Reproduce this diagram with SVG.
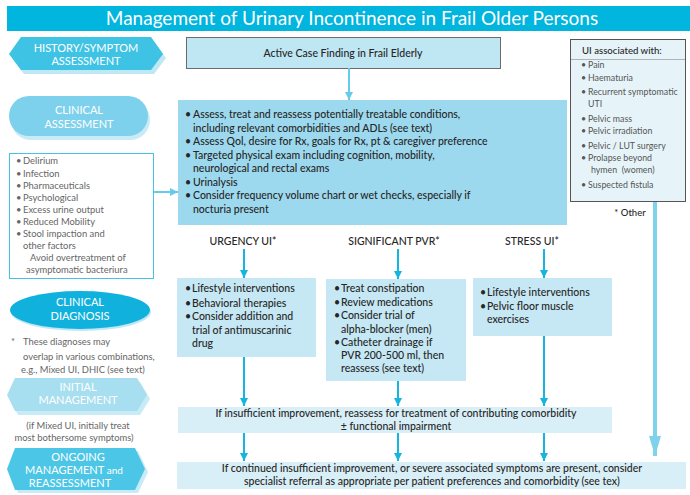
<svg xmlns="http://www.w3.org/2000/svg" width="690" height="495" viewBox="0 0 690 495">
<style>
text{font-family:Lato,"Liberation Sans",sans-serif}
.nav{fill:#fff;font-size:11px;text-anchor:middle}
.b{fill:#262626;font-size:10.5px;font-weight:500}
.c{text-anchor:middle}
.g{fill:#666;font-size:9.4px}
.r{fill:#555;font-size:8.8px}
.lbl{fill:#262626;font-size:10.5px;font-weight:500;text-anchor:middle}
.ar{stroke:#14b5df;stroke-width:2;fill:none}
.arl{stroke:#66caea;stroke-width:2;fill:none}
</style>
<defs>
<marker id="ah" markerUnits="userSpaceOnUse" markerWidth="8" markerHeight="10" refX="8" refY="4" orient="auto"><path d="M0,0 L8,4 L0,8 Z" fill="#14b5df"/></marker>
<marker id="ahl" markerUnits="userSpaceOnUse" markerWidth="8" markerHeight="10" refX="8" refY="4" orient="auto"><path d="M0,0 L8,4 L0,8 Z" fill="#66caea"/></marker>
<marker id="ahb" markerUnits="userSpaceOnUse" markerWidth="20" markerHeight="14" refX="20" refY="6" orient="auto"><path d="M0,0 L20,6 L0,12 Z" fill="#80d2ec"/></marker>
</defs>

<g id="title">
<rect x="7" y="6" width="683" height="25" fill="#00b5de"/>
<text x="352" y="25" fill="#fff" font-size="19" text-anchor="middle">Management of Urinary Incontinence in Frail Older Persons</text>
</g>

<g id="history">
<path d="M12,58 L24,41 L154,41 L166,58 L154,74 L24,74 Z" fill="#bfe7f4"/>
<path d="M9,54 L21,37 L151,37 L163,54 L151,70 L21,70 Z" fill="#3fc3e5"/>
<text class="nav" x="86" y="52" font-size="10.5">HISTORY/SYMPTOM</text>
<text class="nav" x="86" y="65" font-size="10.5">ASSESSMENT</text>
</g>

<g id="clinical-assessment">
<rect x="11" y="100" width="139" height="40" rx="20" fill="#c8ebf6"/>
<rect x="9" y="96" width="139" height="40" rx="20" fill="#7dd1ec"/>
<text class="nav" x="79" y="114" font-size="11.5">CLINICAL</text>
<text class="nav" x="79" y="128" font-size="11.5">ASSESSMENT</text>
</g>

<g id="causes">
<rect x="9.5" y="153.5" width="144" height="125" fill="#fff" stroke="#45c3e6" stroke-width="1"/>
<text class="g" x="16" y="164">•</text><text class="g" x="23" y="164">Delirium</text>
<text class="g" x="16" y="177">•</text><text class="g" x="23" y="177">Infection</text>
<text class="g" x="16" y="189">•</text><text class="g" x="23" y="189">Pharmaceuticals</text>
<text class="g" x="16" y="201">•</text><text class="g" x="23" y="201">Psychological</text>
<text class="g" x="16" y="213">•</text><text class="g" x="23" y="213">Excess urine output</text>
<text class="g" x="16" y="225">•</text><text class="g" x="23" y="225">Reduced Mobility</text>
<text class="g" x="16" y="237">•</text><text class="g" x="23" y="237">Stool impaction and</text>
<text class="g" x="23" y="249">other factors</text>
<text class="g" x="30" y="261">Avoid overtreatment of</text>
<text class="g" x="26" y="273">asymptomatic bacteriura</text>
</g>

<g id="clinical-diagnosis">
<ellipse cx="81" cy="312" rx="70" ry="19" fill="#bfe7f4"/>
<ellipse cx="80" cy="310" rx="70" ry="19" fill="#10b2dd"/>
<text class="nav" x="80" y="306" font-size="11.5">CLINICAL</text>
<text class="nav" x="80" y="320" font-size="11.5">DIAGNOSIS</text>
</g>

<g id="footnote">
<text class="g" x="11" y="345" font-size="11">*</text>
<text class="g" x="23" y="345" font-size="8.9">These diagnoses may</text>
<text class="g" x="23" y="360" font-size="8.9">overlap in various combinations,</text>
<text class="g" x="21" y="373" font-size="8.9">e.g., Mixed UI, DHIC (see text)</text>
</g>

<g id="initial-management">
<path d="M10,399 L18,382 L140,382 L150,399 L140,415 L18,415 Z" fill="#c8ebf6"/>
<path d="M7,395 L15,378 L137,378 L147,395 L137,411 L15,411 Z" fill="#a7def0"/>
<text class="nav" x="78" y="391" font-size="11.5">INITIAL</text>
<text class="nav" x="78" y="404" font-size="11.5">MANAGEMENT</text>
</g>

<g id="mixed-note">
<text class="g c" x="78" y="429" font-size="8.9">(if Mixed UI, initially treat</text>
<text class="g c" x="74" y="441" font-size="8.9">most bothersome symptoms)</text>
</g>

<g id="ongoing">
<path d="M10,472 L18,451 L138,451 L148,472 L138,493 L18,493 Z" fill="#c8ebf6"/>
<path d="M7,469 L15,448 L135,448 L145,469 L135,490 L15,490 Z" fill="#4cc6e6"/>
<text class="nav" x="78" y="461" font-size="11.5">ONGOING</text>
<text class="nav" x="74" y="474" font-size="11.5">MANAGEMENT <tspan font-size="10">and</tspan></text>
<text class="nav" x="70" y="487" font-size="11.5">REASSESSMENT</text>
</g>

<g id="active-case">
<rect x="186.5" y="37.5" width="314" height="31" fill="#bee6f3" stroke="#6b6b6b" stroke-width="1"/>
<text class="b c" x="343" y="57" font-size="12">Active Case Finding in Frail Elderly</text>
</g>

<g id="assessment">
<rect x="178" y="100" width="389" height="125" fill="#9dd9ee"/>
<text class="b" x="185" y="118">•</text><text class="b" x="193" y="118">Assess, treat and reassess potentially treatable conditions,</text>
<text class="b" x="193" y="132">including relevant comorbidities and ADLs (see text)</text>
<text class="b" x="185" y="145">•</text><text class="b" x="193" y="145">Assess Qol, desire for Rx, goals for Rx, pt &amp; caregiver preference</text>
<text class="b" x="185" y="159">•</text><text class="b" x="193" y="159">Targeted physical exam including cognition, mobility,</text>
<text class="b" x="193" y="172">neurological and rectal exams</text>
<text class="b" x="185" y="186">•</text><text class="b" x="193" y="186">Urinalysis</text>
<text class="b" x="185" y="199">•</text><text class="b" x="193" y="199">Consider frequency volume chart or wet checks, especially if</text>
<text class="b" x="193" y="213">nocturia present</text>
</g>

<g id="ui-associated">
<rect x="570.5" y="39.5" width="115" height="162" fill="#e6f4f9" stroke="#555" stroke-width="1"/>
<line x1="571" y1="59.5" x2="685" y2="59.5" stroke="#888" stroke-width="0.6"/>
<text x="582" y="54" fill="#262626" font-size="9.6" font-weight="500">UI associated with:</text>
<text class="r" x="581" y="68">•</text><text class="r" x="588" y="68">Pain</text>
<text class="r" x="581" y="81">•</text><text class="r" x="588" y="81">Haematuria</text>
<text class="r" x="581" y="95">•</text><text class="r" x="588" y="95">Recurrent symptomatic</text>
<text class="r" x="588" y="107">UTI</text>
<text class="r" x="581" y="122">•</text><text class="r" x="588" y="122">Pelvic mass</text>
<text class="r" x="581" y="134">•</text><text class="r" x="588" y="134">Pelvic irradiation</text>
<text class="r" x="581" y="149">•</text><text class="r" x="588" y="149">Pelvic / LUT surgery</text>
<text class="r" x="581" y="161">•</text><text class="r" x="588" y="161">Prolapse beyond</text>
<text class="r" x="591" y="173" xml:space="preserve">hymen  (women)</text>
<text class="r" x="581" y="188">•</text><text class="r" x="588" y="188">Suspected fistula</text>
</g>

<g id="other">
<text x="630" y="216" fill="#262626" font-size="9.5" font-weight="500" text-anchor="middle">* Other</text>
</g>

<g id="label-urgency"><text class="lbl" x="243" y="245">URGENCY UI*</text></g>
<g id="label-pvr"><text class="lbl" x="394" y="245">SIGNIFICANT PVR*</text></g>
<g id="label-stress"><text class="lbl" x="532" y="245">STRESS UI*</text></g>

<g id="urgency-box">
<rect x="177" y="278" width="139" height="79" fill="#c5e8f4"/>
<text class="b" x="185" y="292">•</text><text class="b" x="192" y="292">Lifestyle interventions</text>
<text class="b" x="185" y="307">•</text><text class="b" x="192" y="307">Behavioral therapies</text>
<text class="b" x="185" y="320">•</text><text class="b" x="192" y="320">Consider addition and</text>
<text class="b" x="192" y="334">trial of antimuscarinic</text>
<text class="b" x="192" y="347">drug</text>
</g>

<g id="pvr-box">
<rect x="326" y="279" width="140" height="102" fill="#c5e8f4"/>
<text class="b" x="334" y="292">•</text><text class="b" x="341" y="292">Treat constipation</text>
<text class="b" x="334" y="306">•</text><text class="b" x="341" y="306">Review medications</text>
<text class="b" x="334" y="319">•</text><text class="b" x="341" y="319">Consider trial of</text>
<text class="b" x="341" y="333">alpha-blocker (men)</text>
<text class="b" x="334" y="346">•</text><text class="b" x="341" y="346">Catheter drainage if</text>
<text class="b" x="341" y="359">PVR 200-500 ml, then</text>
<text class="b" x="341" y="372">reassess (see text)</text>
</g>

<g id="stress-box">
<rect x="473" y="278" width="139" height="58" fill="#c5e8f4"/>
<text class="b" x="480" y="296">•</text><text class="b" x="487" y="296">Lifestyle interventions</text>
<text class="b" x="480" y="310">•</text><text class="b" x="487" y="310">Pelvic floor muscle</text>
<text class="b" x="487" y="323">exercises</text>
</g>

<g id="reassess-box">
<rect x="178" y="407" width="434" height="26" fill="#d9eff7"/>
<text class="b c" x="396" y="417">If insufficient improvement, reassess for treatment of contributing comorbidity</text>
<text class="b c" x="396" y="430">± functional impairment</text>
</g>

<g id="referral-box">
<rect x="177" y="462" width="509" height="27" fill="#d9eff7"/>
<text class="b c" x="432" y="472">If continued insufficient improvement, or severe associated symptoms are present, consider</text>
<text class="b c" x="432" y="485">specialist referral as appropriate per patient preferences and comorbidity (see tex)</text>
</g>

<g id="connectors">
<line class="arl" x1="349" y1="68" x2="349" y2="100" marker-end="url(#ahl)"/>
<line class="arl" x1="154" y1="192" x2="178" y2="192" marker-end="url(#ahl)"/>
<line class="ar" x1="244" y1="249" x2="244" y2="278" marker-end="url(#ah)"/>
<line class="ar" x1="398" y1="249" x2="398" y2="279" marker-end="url(#ah)"/>
<line class="ar" x1="544" y1="249" x2="544" y2="278" marker-end="url(#ah)"/>
<line class="ar" x1="244" y1="357" x2="244" y2="406" marker-end="url(#ah)"/>
<line class="ar" x1="398" y1="381" x2="398" y2="406" marker-end="url(#ah)"/>
<line class="ar" x1="544" y1="336" x2="544" y2="406" marker-end="url(#ah)"/>
<line class="ar" x1="244" y1="433" x2="244" y2="461" marker-end="url(#ah)"/>
<line class="ar" x1="398" y1="433" x2="398" y2="461" marker-end="url(#ah)"/>
<line class="ar" x1="544" y1="433" x2="544" y2="461" marker-end="url(#ah)"/>
<line x1="655" y1="202" x2="655" y2="456" stroke="#80d2ec" stroke-width="4" marker-end="url(#ahb)"/>
</g>
</svg>
